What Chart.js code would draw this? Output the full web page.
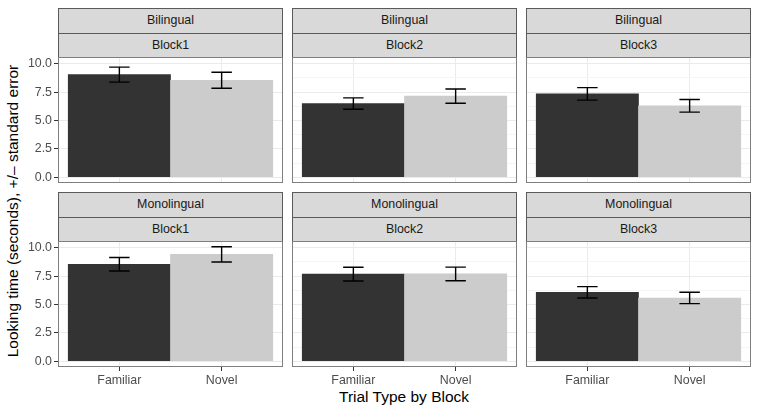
<!DOCTYPE html>
<html lang="en">
<head>
    <meta charset="UTF-8">
    <title>Looking time by trial type and block</title>
    <style>
        body {
            margin: 0;
            background: white;
            font-family: 'Liberation Sans', Arial, sans-serif;
        }
        #fig {
            position: relative;
            width: 760px;
            height: 411px;
            background: white;
            overflow: hidden;
        }
        .strip {
            position: absolute;
            background: #d9d9d9;
            border: 1px solid #5a5a5a;
            box-sizing: border-box;
            color: #1a1a1a;
            font-size: 12.4px;
            text-align: center;
        }
        .wrap {
            position: absolute;
        }
        .title {
            position: absolute;
            font-size: 15.5px;
            color: #000;
            white-space: nowrap;
        }
    </style>
</head>
<body>
    <div id="fig">
        <div class="title" id="xTitle">Trial Type by Block</div>
        <div class="title" id="yTitle">Looking time (seconds), +/– standard error</div>
    </div>

    <script src="https://cdn.jsdelivr.net/npm/chart.js"></script>
    <script>
        // data
        const groups = ['Bilingual', 'Monolingual'];
        const blocks = ['Block1', 'Block2', 'Block3'];
        const trialTypes = ['Familiar', 'Novel'];

        // means, one row per group, one value per block
        const familiarMeans = [[9.05, 6.50, 7.35], [8.55, 7.68, 6.08]];
        const novelMeans = [[8.55, 7.15, 6.30], [9.42, 7.70, 5.58]];
        // standard errors
        const familiarSE = [[0.66, 0.50, 0.55], [0.60, 0.60, 0.50]];
        const novelSE = [[0.70, 0.63, 0.56], [0.67, 0.60, 0.50]];

        const yTicks = [0, 2.5, 5, 7.5, 10];

        // layout of the facet grid (pixels)
        const colLeft = [58, 292, 526];
        const panelW = 225;
        const stripTop = [8, 192];
        const stripH = 24.5;
        const plotTop = [57, 241];
        const plotH = 126;
        const yAxisW = 58;
        const xAxisH = 24;

        const fig = document.getElementById('fig');
        const minorTicks = yTicks.slice(1).map((v, i) => (v + yTicks[i]) / 2);

        const errorBars = {
            id: 'errorBars',
            afterDatasetsDraw(chart) {
                const ctx = chart.ctx;
                const xs = chart.scales.x, ys = chart.scales.y;
                chart.data.datasets.forEach(ds => {
                    ds.data.forEach((p, i) => {
                        const e = ds.errors[i];
                        const x = xs.getPixelForValue(p.x);
                        const xl = xs.getPixelForValue(p.x - 0.1);
                        const xr = xs.getPixelForValue(p.x + 0.1);
                        const yt = ys.getPixelForValue(p.y + e);
                        const yb = ys.getPixelForValue(p.y - e);
                        ctx.save();
                        ctx.strokeStyle = '#000';
                        ctx.lineWidth = 1.4;
                        ctx.beginPath();
                        ctx.moveTo(x, yt); ctx.lineTo(x, yb);
                        ctx.moveTo(xl, yt); ctx.lineTo(xr, yt);
                        ctx.moveTo(xl, yb); ctx.lineTo(xr, yb);
                        ctx.stroke();
                        ctx.restore();
                    });
                });
            }
        };

        const panelBorder = {
            id: 'panelBorder',
            afterDraw(chart) {
                const a = chart.chartArea, ctx = chart.ctx;
                ctx.save();
                ctx.strokeStyle = '#7f7f7f';
                ctx.lineWidth = 1;
                ctx.strokeRect(Math.round(a.left) + 0.5, Math.round(a.top) + 0.5,
                    Math.round(a.right - a.left) - 1, Math.round(a.bottom - a.top) - 1);
                ctx.restore();
            }
        };

        function addStrip(text, left, top) {
            const d = document.createElement('div');
            d.className = 'strip';
            d.textContent = text;
            d.style.left = left + 'px';
            d.style.top = top + 'px';
            d.style.width = panelW + 'px';
            d.style.height = (stripH + 1) + 'px';
            d.style.lineHeight = (stripH - 1) + 'px';
            fig.appendChild(d);
        }

        // fixed axis sizes, no extra label padding around the plot area
        function fixSize(s, size) {
            if (s.isHorizontal()) s.height = size; else s.width = size;
            s.paddingTop = 0; s.paddingBottom = 0;
            s.paddingLeft = 0; s.paddingRight = 0;
        }

        groups.forEach((g, r) => {
            blocks.forEach((b, c) => {
                addStrip(g, colLeft[c], stripTop[r]);
                addStrip(b, colLeft[c], stripTop[r] + stripH);

                const leftCol = c === 0, bottomRow = r === groups.length - 1;
                const w = panelW + (leftCol ? yAxisW : 0);
                const h = plotH + (bottomRow ? xAxisH : 0);
                const wrap = document.createElement('div');
                wrap.className = 'wrap';
                wrap.style.left = (colLeft[c] - (leftCol ? yAxisW : 0)) + 'px';
                wrap.style.top = plotTop[r] + 'px';
                const canvas = document.createElement('canvas');
                canvas.width = w;
                canvas.height = h;
                wrap.appendChild(canvas);
                fig.appendChild(wrap);

                new Chart(canvas, {
                    type: 'bar',
                    data: {
                        datasets: [{
                            data: [
                                { x: 1, y: familiarMeans[r][c] },
                                { x: 2, y: novelMeans[r][c] }
                            ],
                            errors: [familiarSE[r][c], novelSE[r][c]],
                            backgroundColor: ['#333333', '#cccccc'],
                            barPercentage: 1,
                            categoryPercentage: 1
                        }]
                    },
                    options: {
                        responsive: false,
                        animation: false,
                        layout: { padding: 0 },
                        plugins: {
                            legend: { display: false },
                            tooltip: { enabled: false }
                        },
                        scales: {
                            x: {
                                type: 'linear',
                                offset: false,
                                min: 0.4,
                                max: 2.6,
                                afterBuildTicks: s => { s.ticks = [{ value: 1 }, { value: 2 }]; },
                                afterFit: s => fixSize(s, bottomRow ? xAxisH : 0),
                                border: { display: false },
                                grid: {
                                    offset: false,
                                    color: '#ebebeb',
                                    lineWidth: 1,
                                    drawTicks: bottomRow,
                                    tickLength: 4,
                                    tickColor: '#333333'
                                },
                                ticks: {
                                    display: bottomRow,
                                    padding: 2,
                                    maxRotation: 0,
                                    color: '#4d4d4d',
                                    font: { family: "'Liberation Sans', Arial", size: 12.4 },
                                    callback: v => trialTypes[v - 1] || ''
                                }
                            },
                            y: {
                                offset: false,
                                min: -0.505,
                                max: 10.6,
                                afterBuildTicks: s => {
                                    s.ticks = yTicks.concat(minorTicks).sort((a, b) => a - b).map(v => ({ value: v }));
                                },
                                afterFit: s => fixSize(s, leftCol ? yAxisW : 0),
                                border: { display: false },
                                grid: {
                                    color: ctx => yTicks.includes(ctx.tick.value) ? '#ebebeb' : '#f5f5f5',
                                    lineWidth: 1,
                                    drawTicks: leftCol,
                                    tickLength: 4,
                                    tickColor: ctx => yTicks.includes(ctx.tick.value) ? '#333333' : 'rgba(0,0,0,0)'
                                },
                                ticks: {
                                    display: leftCol,
                                    padding: 2,
                                    color: '#4d4d4d',
                                    font: { family: "'Liberation Sans', Arial", size: 12.4 },
                                    callback: v => yTicks.includes(v) ? v.toFixed(1) : ''
                                }
                            }
                        }
                    },
                    plugins: [errorBars, panelBorder]
                });
            });
        });

        // axis titles
        const xTitle = document.getElementById('xTitle');
        xTitle.style.left = (404 - xTitle.offsetWidth / 2) + 'px';
        xTitle.style.top = (397 - xTitle.offsetHeight / 2) + 'px';
        const yTitle = document.getElementById('yTitle');
        yTitle.style.left = (13 - yTitle.offsetWidth / 2) + 'px';
        yTitle.style.top = (211 - yTitle.offsetHeight / 2) + 'px';
        yTitle.style.transform = 'rotate(-90deg)';
    </script>
</body>
</html>
